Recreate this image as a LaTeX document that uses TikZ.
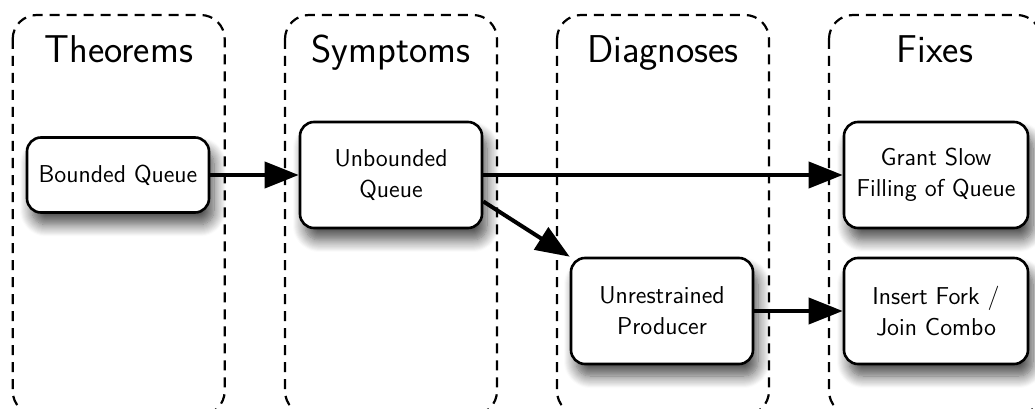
\documentclass[tikz,border=0pt]{standalone}
\usepackage{tikz}
\usetikzlibrary{arrows.meta,shadows.blur}
\tikzset{>=Triangle}

\begin{document}
\begin{tikzpicture}[x=0.5pt,y=0.5pt]
  \tikzset{
    lane/.style={draw, dash pattern=on 5pt off 3.5pt, line width=1.1pt,
      rounded corners=12pt},
    lanetitle/.style={anchor=base, font=\fontsize{19.4}{23}\selectfont\sffamily},
    fbox/.style={rectangle, rounded corners=7pt, draw, line width=1.3pt,
      fill=white, minimum width=91pt, minimum height=53pt, align=center,
      font=\fontsize{12.2}{15.5}\selectfont\sffamily,
      blur shadow={shadow xshift=2.5pt, shadow yshift=-6pt,
        shadow blur radius=6pt, shadow blur steps=12, shadow opacity=70}},
    flow/.style={-{Triangle[length=17pt,width=13pt]}, line width=2pt}
  }
  \clip (0,0) rectangle (1035,408);

  % the four dashed lanes with their headings
  \foreach \x/\t [count=\i] in {12.7/Theorems,285/Symptoms,557/Diagnoses,829/Fixes}{
    \draw[lane] (\x,393) rectangle ++(212,-400);
    \node[lanetitle] (title\i) at (\x+106,345) {\t};
  }

  \node[fbox, minimum height=37.5pt] (bq) at (118,233) {Bounded Queue};
  \node[fbox] (ubq) at (391,233) {Unbounded\\Queue};
  \node[fbox] (up)  at (662,97)  {Unrestrained\\Producer};
  \node[fbox, minimum width=92pt] (gs)  at (936,233) {Grant Slow\\Filling of Queue};
  \node[fbox, minimum width=92pt] (ifj) at (936,97)  {Insert Fork /\\Join Combo};

  \foreach \a/\b in {bq.east/ubq.west,ubq.east/gs.west,ubq.-16/up.north west,up.east/ifj.west}{
    \draw[flow] (\a)--(\b);
  }
\end{tikzpicture}
\end{document}
